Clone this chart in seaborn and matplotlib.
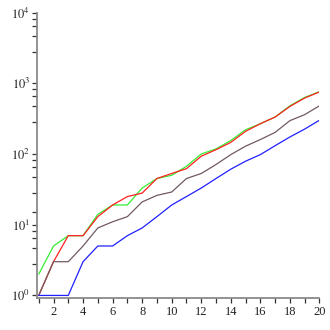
import matplotlib
matplotlib.use("Agg")
import matplotlib.pyplot as plt
import matplotlib.ticker as mticker
import numpy as np
import pandas as pd
import seaborn as sns

# Series values for n = 1..20
n = list(range(1, 21))
blue = [1, 1, 1, 3, 5, 5, 7, 9, 13, 19, 25, 33, 45, 61, 79, 98, 131, 174, 225, 300]
brown = [1, 3, 3, 5, 9, 11, 13, 21, 26, 29, 45, 53, 71, 98, 129, 160, 202, 296, 360, 480]
red = [1, 3, 7, 7, 13, 19, 25, 28, 45, 53, 62, 93, 115, 146, 209, 268, 333, 470, 618, 754]
green = [2, 5, 7, 7, 14, 19, 19, 33, 45, 50, 67, 100, 118, 155, 220, 268, 333, 480, 630, 760]

series_names = ["green", "red", "brown", "blue"]
colors = {"green": "#33ee33", "red": "#ff2020", "brown": "#725a5e", "blue": "#2020ff"}

df = pd.concat([
    pd.DataFrame({"n": n, "value": vals, "series": name})
    for name, vals in zip(series_names, [green, red, brown, blue])
])

sns.set_style("white")
plt.rcParams["font.family"] = ["Liberation Serif", "DejaVu Serif"]
plt.rcParams["mathtext.fontset"] = "stix"

fig = plt.figure(figsize=(3.3, 3.3), dpi=100)
ax = fig.add_axes([0.112, 0.098, 0.856, 0.864])

sns.lineplot(data=df, x="n", y="value", hue="series", hue_order=series_names,
             palette=colors, linewidth=0.9, legend=False, ax=ax)

ax.set_yscale("log")
ax.set_xlim(0.88, 20)
ax.set_ylim(0.93, 1e4)
ax.set_xlabel("")
ax.set_ylabel("")

axis_gray = "#8a8a8a"
for side in ("top", "right"):
    ax.spines[side].set_visible(False)
for side in ("left", "bottom"):
    ax.spines[side].set_color(axis_gray)
    ax.spines[side].set_linewidth(1.3)

ax.xaxis.set_major_locator(mticker.FixedLocator(range(2, 21, 2)))
ax.xaxis.set_minor_locator(mticker.FixedLocator(range(1, 20, 2)))
ax.yaxis.set_major_locator(mticker.FixedLocator([1, 10, 100, 1000, 10000]))
ax.yaxis.set_major_formatter(mticker.FuncFormatter(
    lambda v, p: r"$10^{%d}$" % int(round(np.log10(v)))))
minor_subs = [2.8, 4.7, 6.5, 8.2]
minor_y = [d * s for d in (1, 10, 100, 1000) for s in minor_subs] + [15]
ax.yaxis.set_minor_locator(mticker.FixedLocator(minor_y))
ax.yaxis.set_minor_formatter(mticker.NullFormatter())

ax.tick_params(axis="both", which="both", direction="out", color="#333333",
               length=3.5, width=0.9, labelsize=9, labelcolor="#222222")
ax.tick_params(axis="y", which="both", left=True, pad=1.5)
ax.tick_params(axis="x", which="both", bottom=True, pad=2.5)

fig.savefig("out.png", dpi=100)
